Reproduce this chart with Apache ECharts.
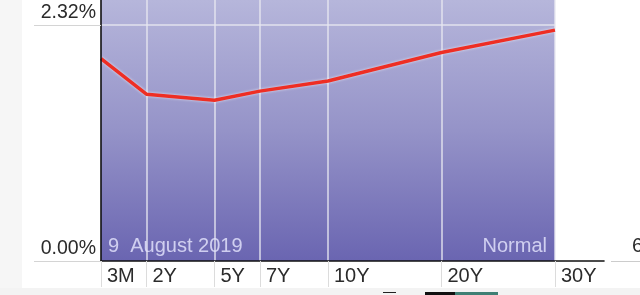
<!DOCTYPE html>
<html>
<head>
<meta charset="utf-8">
<script src="https://cdn.jsdelivr.net/npm/echarts@6/dist/echarts.min.js"></script>
<style>
html,body{margin:0;padding:0;background:#fff;}
#c{width:640px;height:295px;}
</style>
</head>
<body>
<div id="c"></div>
<script>
// ---- data ----
var maturities = ['3M', '2Y', '5Y', '7Y', '10Y', '20Y', '30Y'];
var maturityPositions = [0, 2, 5, 7, 10, 15, 20];
var yields = [1.99, 1.64, 1.58, 1.67, 1.77, 2.05, 2.27];
var yTickValues = [0, 2.32];
var yTickLabels = ['0.00%', '2.32%'];
var dateLabel = '9  August 2019';
var shapeLabel = 'Normal';

// ---- chart ----
var FONT = '"Liberation Sans", Arial, Helvetica, sans-serif';
var xEnd = 20, xMax = 22.16, yMax = 2.566;
var chart = echarts.init(document.getElementById('c'), null, {renderer: 'canvas'});

var lineData = maturityPositions.map(function (p, i) { return [p, yields[i]]; });
var vLines = maturityPositions.slice(1).map(function (p) {
  return [{coord: [p, 0]}, {coord: [p, yMax]}];
});
vLines.push([{coord: [0, yTickValues[1]]}, {coord: [xEnd, yTickValues[1]]}]);

var option = {
  animation: false,
  backgroundColor: '#ffffff',
  grid: {left: 101, top: 0, width: 503, height: 261, containLabel: false},
  xAxis: {
    type: 'value', min: 0, max: xMax, z: 20,
    axisLine: {show: true, onZero: false, lineStyle: {color: '#111', width: 1.6}},
    axisTick: {show: true, customValues: maturityPositions, length: 26, inside: false,
      lineStyle: {color: '#dcdcdc', width: 1}},
    axisLabel: {
      customValues: maturityPositions,
      formatter: function (v) { var i = maturityPositions.indexOf(v); return i >= 0 ? maturities[i] : ''; },
      align: 'left', padding: [0, 0, 0, 6], margin: 5,
      fontSize: 20, fontFamily: FONT, color: '#2b2b2b'
    },
    splitLine: {show: false}
  },
  yAxis: {
    type: 'value', min: 0, max: yMax, z: 20,
    axisLine: {show: true, onZero: false, lineStyle: {color: '#111', width: 1.6}},
    axisTick: {show: true, customValues: yTickValues, length: 67, inside: false,
      lineStyle: {color: '#d4d4d4', width: 1}},
    axisLabel: {
      customValues: yTickValues,
      formatter: function (v) { var i = yTickValues.indexOf(v); return i >= 0 ? yTickLabels[i] : ''; },
      verticalAlign: 'bottom', margin: 5, padding: [0, 0, 2, 0],
      fontSize: 19.5, fontFamily: FONT, color: '#2b2b2b'
    },
    splitLine: {show: false}
  },
  graphic: [
    {type: 'rect', z: -10, shape: {x: 0, y: 0, width: 22, height: 295}, style: {fill: '#f6f6f6'}},
    {type: 'rect', z: -10, shape: {x: 0, y: 288, width: 640, height: 7}, style: {fill: '#f3f3f3'}},
    {type: 'line', z: -5, shape: {x1: 611, y1: 261.5, x2: 640, y2: 261.5}, style: {stroke: '#cccccc', lineWidth: 1}},
    {type: 'text', z: 50, left: 632, top: 236, style: {text: '6', font: '20px ' + FONT, fill: '#2b2b2b'}},
    {type: 'rect', z: 50, shape: {x: 383, y: 292, width: 13, height: 1}, style: {fill: '#222'}},
    {type: 'rect', z: 50, shape: {x: 425, y: 292, width: 30, height: 3}, style: {fill: '#111'}},
    {type: 'rect', z: 50, shape: {x: 455, y: 292, width: 43, height: 3}, style: {fill: '#3f7f74'}},
    {type: 'text', z: 50, left: 108, top: 236, style: {text: dateLabel, font: '20px ' + FONT, fill: 'rgba(225,225,250,0.85)'}},
    {type: 'text', z: 50, right: 640 - 547, top: 236, style: {text: shapeLabel, font: '20px ' + FONT, fill: 'rgba(225,225,250,0.85)'}}
  ],
  series: [
    {
      type: 'line', z: 1, data: [], silent: true,
      markArea: {
        silent: true,
        itemStyle: {
          color: {type: 'linear', x: 0, y: 0, x2: 0, y2: 1, colorStops: [
            {offset: 0, color: '#b6b6db'},
            {offset: 0.5, color: '#9593c8'},
            {offset: 1, color: '#6a65b1'}
          ]}
        },
        data: [[{coord: [0, 0]}, {coord: [xEnd, yMax]}]]
      },
      markLine: {
        silent: true, symbol: ['none', 'none'], label: {show: false},
        lineStyle: {color: 'rgba(232,232,240,0.9)', width: 1.5, type: 'solid'},
        emphasis: {disabled: true},
        data: vLines
      }
    },
    {
      type: 'line', z: 5, data: lineData, symbol: 'none', smooth: false,
      lineStyle: {color: '#ee2e24', width: 3.5, shadowColor: 'rgba(255,255,255,0.7)', shadowBlur: 3},
      emphasis: {disabled: true}
    }
  ]
};
chart.setOption(option);
</script>
</body>
</html>
